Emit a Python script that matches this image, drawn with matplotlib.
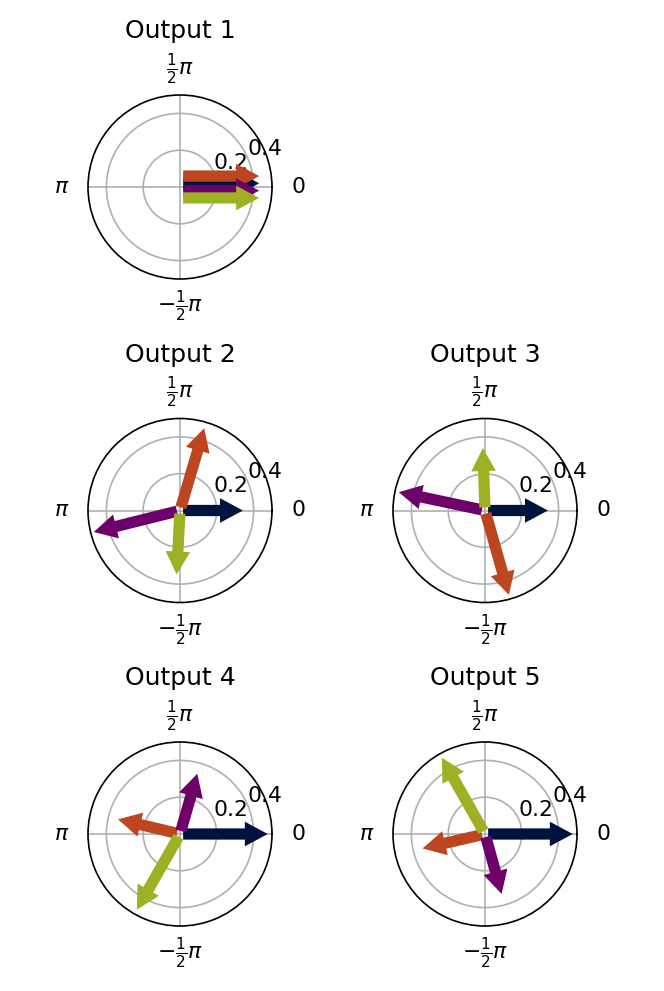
import numpy as np
import matplotlib
matplotlib.use("Agg")
import matplotlib.pyplot as plt
from matplotlib.patches import FancyArrowPatch
from matplotlib.transforms import ScaledTranslation

# ---- data ----
outputs = ["Output 1", "Output 2", "Output 3", "Output 4", "Output 5"]
series_colors = ["#00133d", "#bd4520", "#6e006a", "#9eb023"]  # navy, orange, purple, olive
# magnitudes per series (one value per output)
navy_amp = [0.43, 0.342, 0.342, 0.477, 0.477]
orange_amp = [0.43, 0.466, 0.477, 0.346, 0.348]
purple_amp = [0.43, 0.483, 0.479, 0.341, 0.338]
green_amp = [0.43, 0.348, 0.339, 0.473, 0.476]
# phases in degrees
navy_phase = [0, 0, 0, 0, 0]
orange_phase = [0, 73.6, -74.2, 166.7, -167.0]
purple_phase = [0, -166.0, 168.0, 74.0, -74.5]
green_phase = [0, -93.0, 92.0, -119.7, 119.5]

amps = [navy_amp, orange_amp, purple_amp, green_amp]
phases = [navy_phase, orange_phase, purple_phase, green_phase]

r_ticks = [0.2, 0.4]
r_max = 0.5
theta_ticks = [0, np.pi / 2, np.pi, 3 * np.pi / 2]
theta_labels = [r"$0$", r"$\frac{1}{2}\pi$", r"$\pi$", r"$-\frac{1}{2}\pi$"]

# ---- style ----
W, H, DPI = 664, 991, 150
STACK_STEP_PT = 3.5
stack_factor = [0.5, 1.5, -0.5, -1.5]
arrow_style = "simple,head_length=11,head_width=11.8,tail_width=5.4"

fig = plt.figure(figsize=(W / DPI, H / DPI), dpi=DPI)

centers = [(180, 187), (180, 510.5), (485, 510.5), (180, 834), (485, 834)]
rad = 92

for k, name in enumerate(outputs):
    cx, cy = centers[k]
    rect = [(cx - rad) / W, 1 - (cy + rad) / H, 2 * rad / W, 2 * rad / H]
    ax = fig.add_axes(rect, projection="polar")
    ax.set_ylim(0, r_max)
    ax.set_yticks(r_ticks)
    ax.set_yticklabels([f"{t:g}" for t in r_ticks])
    ax.set_xticks(theta_ticks)
    ax.set_xticklabels(theta_labels, fontsize=10.5)
    ax.tick_params(axis="x", pad=2.3)
    ax.tick_params(axis="y", labelsize=10.5)
    ax.grid(True, color="#b0b0b0", linewidth=0.8)
    ax.set_title(name, fontsize=12, pad=6)

    ph_k = [phases[s][k] for s in range(4)]
    same = len(set(ph_k)) == 1
    for s in range(4):
        th = np.deg2rad(phases[s][k])
        r = amps[s][k]
        if same:
            off = STACK_STEP_PT * stack_factor[s] / 72.0
            dx, dy = -np.sin(th) * off, np.cos(th) * off
        else:
            dx, dy = 0.0, 0.0
        tr = ax.transData + ScaledTranslation(dx, dy, fig.dpi_scale_trans)
        arr = FancyArrowPatch((0, 0), (th, r), transform=tr,
                              arrowstyle=arrow_style, mutation_scale=1,
                              shrinkA=1.5, shrinkB=0,
                              facecolor=series_colors[s], edgecolor="none",
                              linewidth=0, zorder=3 + s)
        ax.add_patch(arr)

fig.savefig("out.png", dpi=DPI)
